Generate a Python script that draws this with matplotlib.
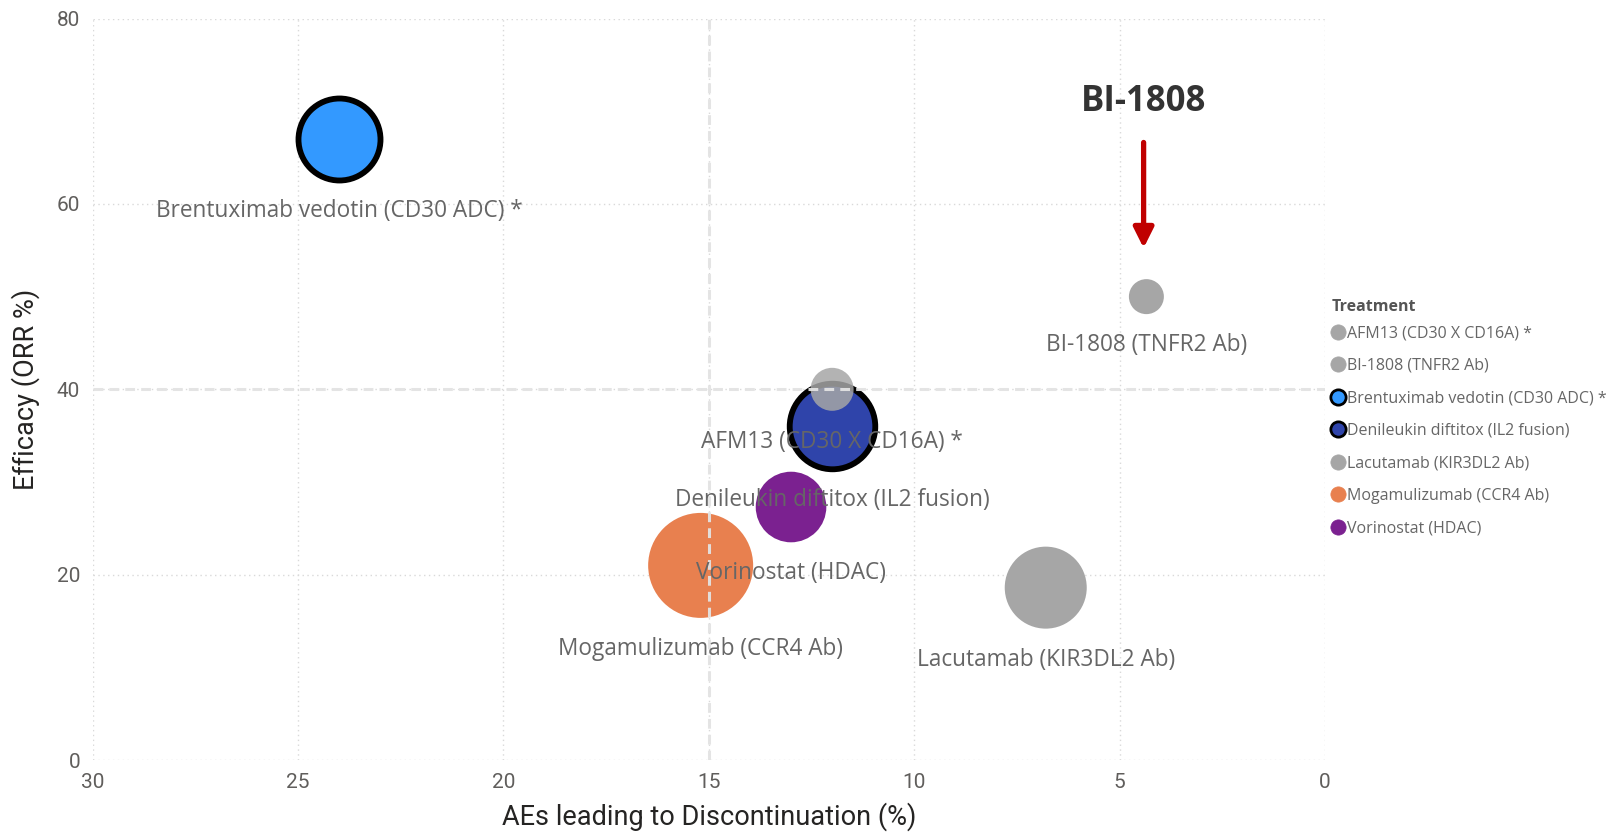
import numpy as np
import matplotlib
matplotlib.use("Agg")
import matplotlib.pyplot as plt
from matplotlib.lines import Line2D
from matplotlib.transforms import offset_copy

# ---------------- data ----------------
treatments = [
    "AFM13 (CD30 X CD16A) *",
    "BI-1808 (TNFR2 Ab)",
    "Brentuximab vedotin (CD30 ADC) *",
    "Denileukin diftitox (IL2 fusion)",
    "Lacutamab (KIR3DL2 Ab)",
    "Mogamulizumab (CCR4 Ab)",
    "Vorinostat (HDAC)",
]
ae_discontinuation = [12.0, 4.35, 24.0, 12.0, 6.8, 15.2, 13.0]  # x, %
orr = [40.0, 50.0, 67.0, 36.0, 18.6, 21.0, 27.3]                # y, %
bubble_value = [462, 306, 1681, 1830, 1681, 2756, 1246]         # bubble area value
colors = ["#a6a6a6", "#a6a6a6", "#3399ff", "#2f44aa", "#a6a6a6", "#e8804f", "#7b2190"]
edge_colors = ["none", "none", "black", "black", "none", "none", "none"]
alphas = [0.85, 1.0, 1.0, 1.0, 1.0, 1.0, 1.0]

x_ticks = [30, 25, 20, 15, 10, 5, 0]
y_ticks = [0, 20, 40, 60, 80]
ref_x = 15
ref_y = 40
highlight = "BI-1808 (TNFR2 Ab)"
highlight_text = "BI-1808"
legend_title = "Treatment"

# ---------------- style ----------------
LABEL_FONT = ["Open Sans", "DejaVu Sans"]
AXIS_FONT = ["Roboto", "DejaVu Sans"]
TICK_COLOR = "#605e5c"
TITLE_COLOR = "#252423"

fig = plt.figure(figsize=(16.14, 8.34), dpi=100)
ax = fig.add_axes([0.0574, 0.0887, 0.7636, 0.889])

ax.set_xlim(30, 0)
ax.set_ylim(0, 80)
ax.set_xticks(x_ticks)
ax.set_yticks(y_ticks)
for s in ax.spines.values():
    s.set_visible(False)
ax.grid(True, linestyle=(0, (1, 2.5)), color="#d9d9d9", linewidth=1.0)
ax.set_axisbelow(True)
ax.tick_params(length=0, pad=9, labelsize=15, labelcolor=TICK_COLOR)
for lab in ax.get_xticklabels() + ax.get_yticklabels():
    lab.set_family(AXIS_FONT)

ax.set_xlabel("AEs leading to Discontinuation (%)", fontsize=19.5, color=TITLE_COLOR,
              family=AXIS_FONT, labelpad=8)
ax.set_ylabel("Efficacy (ORR %)", fontsize=19.5, color=TITLE_COLOR,
              family=AXIS_FONT, labelpad=12)

# bubbles, largest first
order = np.argsort(bubble_value)[::-1]
radii_px = np.sqrt(np.array(bubble_value, dtype=float))
for i in order:
    r = radii_px[i]
    s = (2 * r * 0.72) ** 2
    ax.scatter(ae_discontinuation[i], orr[i], s=s, c=colors[i],
               edgecolors=edge_colors[i], linewidths=4.2 if edge_colors[i] != "none" else 0,
               alpha=alphas[i], zorder=3)

# reference lines over bubbles
ax.axvline(ref_x, color="#e3e3e3", lw=2.2, dashes=(3.2, 2.0), zorder=4, alpha=0.95)
ax.axhline(ref_y, color="#e3e3e3", lw=2.2, dashes=(3.2, 2.0), zorder=4, alpha=0.95)

# data labels
for i in range(len(treatments)):
    r = radii_px[i]
    ax.annotate(treatments[i], (ae_discontinuation[i], orr[i]),
                xytext=(0, -(r + 31) * 0.72), textcoords="offset points",
                ha="center", va="center", fontsize=16.3, color="#666666",
                family=LABEL_FONT, zorder=6)

# highlight annotation (arrow + bold title above the highlighted bubble)
hi = treatments.index(highlight)
hx, hy = ae_discontinuation[hi], orr[hi]
shifted = offset_copy(ax.transData, fig=fig, x=-2, y=0, units="points")
ax.annotate("", xy=(hx, hy), xycoords=shifted, xytext=(0, 111), textcoords="offset points",
            arrowprops=dict(arrowstyle="-|>,head_width=0.3,head_length=0.6",
                            mutation_scale=20, color="#c00000", lw=3.8,
                            shrinkA=0, shrinkB=35), zorder=7)
ax.annotate(highlight_text, (hx, hy), xycoords=shifted, xytext=(0, 140),
            textcoords="offset points",
            ha="center", va="center", fontsize=25, fontweight="bold",
            color="#333333", family=LABEL_FONT, zorder=7)

# legend (title drawn separately for tighter spacing)
handles = [Line2D([0], [0], marker="o", linestyle="none", markersize=11,
                  markerfacecolor=colors[i],
                  markeredgecolor=("black" if edge_colors[i] != "none" else colors[i]),
                  markeredgewidth=(2.0 if edge_colors[i] != "none" else 0.5))
           for i in range(len(treatments))]
leg = ax.legend(handles, treatments, loc="upper left",
                bbox_to_anchor=(0.8250, 0.6098), bbox_transform=fig.transFigure,
                frameon=False, fontsize=11.5,
                handlelength=0.8, handletextpad=0.15,
                labelspacing=1.03, borderpad=0, borderaxespad=0)
for t in leg.get_texts():
    t.set_color("#666666")
    t.set_family(LABEL_FONT)
fig.text(0.8252, 1 - 307 / 834, legend_title, ha="left", va="center",
         fontsize=11.5, fontweight="bold", color="#555555", family=LABEL_FONT)

fig.savefig("out.png", dpi=100, facecolor="white")
